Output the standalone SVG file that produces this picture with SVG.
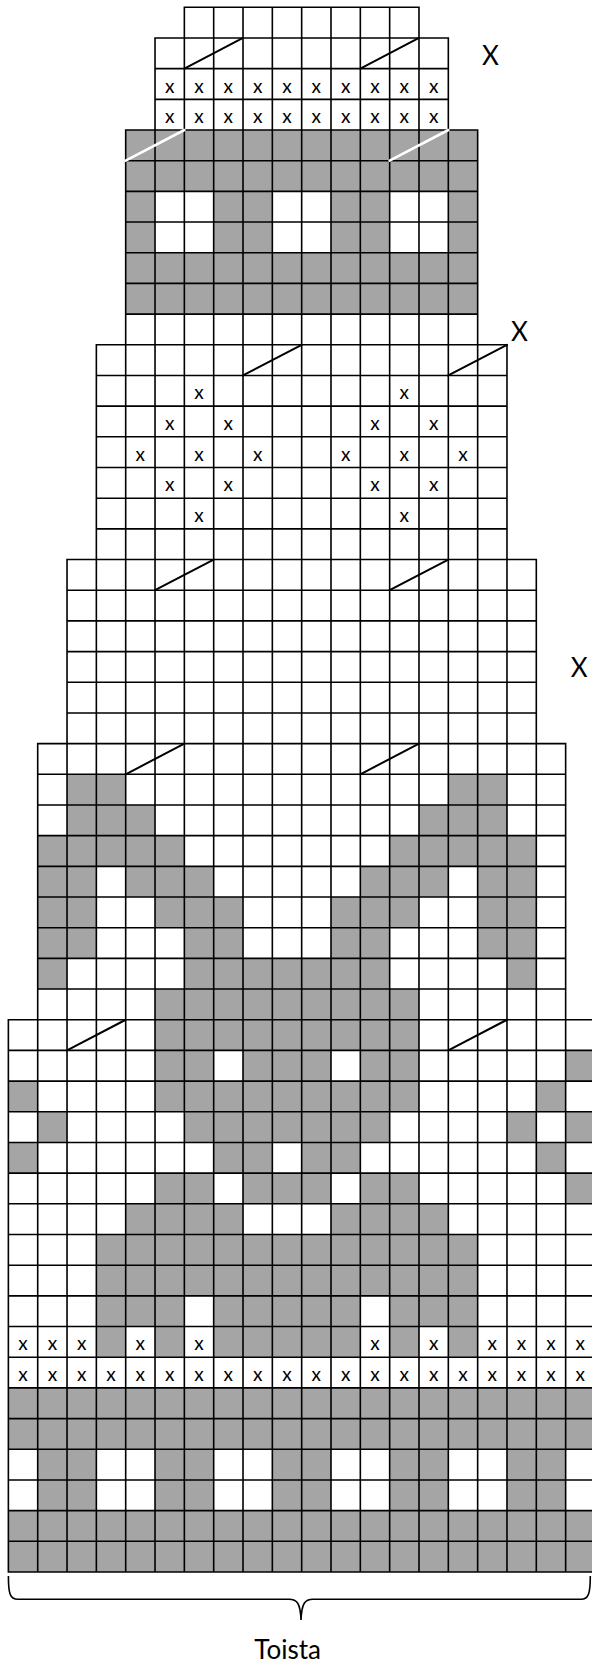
<svg xmlns="http://www.w3.org/2000/svg" width="592" height="1663" viewBox="0 0 592 1663">
<style>
.g rect{fill:#a5a5a5}
.grid{fill:none;stroke:#000;stroke-width:1.6;stroke-linecap:square;vector-effect:non-scaling-stroke}
.d{fill:none;stroke:#000;stroke-width:2;stroke-linecap:round;vector-effect:non-scaling-stroke}
.dw{fill:none;stroke:#fff;stroke-width:2.6;stroke-linecap:round;vector-effect:non-scaling-stroke}
.s{font-family:Lato,"Noto Sans",sans-serif;font-size:19px;text-anchor:middle;fill:#000}
.L{font-family:Lato,"Noto Sans",sans-serif;font-size:26px;text-anchor:middle;fill:#000}
.br{fill:none;stroke:#000;stroke-width:1.6}
</style>
<rect width="592" height="1663" fill="#fff"/>
<g id="chart" transform="translate(8.37 7.3) scale(29.33 30.68)">
<g id="fills" class="g">
<rect x="4" y="4" width="12" height="2"/>
<rect x="4" y="6" width="1" height="2"/><rect x="7" y="6" width="2" height="2"/><rect x="11" y="6" width="2" height="2"/><rect x="15" y="6" width="1" height="2"/>
<rect x="4" y="8" width="12" height="2"/>
<rect x="2" y="25" width="2" height="1"/><rect x="15" y="25" width="2" height="1"/>
<rect x="2" y="26" width="3" height="1"/><rect x="14" y="26" width="3" height="1"/>
<rect x="1" y="27" width="5" height="1"/><rect x="13" y="27" width="5" height="1"/>
<rect x="1" y="28" width="2" height="1"/><rect x="4" y="28" width="3" height="1"/><rect x="12" y="28" width="3" height="1"/><rect x="16" y="28" width="2" height="1"/>
<rect x="1" y="29" width="2" height="1"/><rect x="5" y="29" width="3" height="1"/><rect x="11" y="29" width="3" height="1"/><rect x="16" y="29" width="2" height="1"/>
<rect x="1" y="30" width="2" height="1"/><rect x="6" y="30" width="2" height="1"/><rect x="11" y="30" width="2" height="1"/><rect x="16" y="30" width="2" height="1"/>
<rect x="1" y="31" width="1" height="1"/><rect x="6" y="31" width="7" height="1"/><rect x="17" y="31" width="1" height="1"/>
<rect x="5" y="32" width="9" height="2"/>
<rect x="5" y="34" width="2" height="1"/><rect x="8" y="34" width="3" height="1"/><rect x="12" y="34" width="2" height="1"/><rect x="19" y="34" width="1" height="1"/>
<rect x="0" y="35" width="1" height="1"/><rect x="5" y="35" width="9" height="1"/><rect x="18" y="35" width="1" height="1"/>
<rect x="1" y="36" width="1" height="1"/><rect x="6" y="36" width="7" height="1"/><rect x="17" y="36" width="1" height="1"/><rect x="19" y="36" width="1" height="1"/>
<rect x="0" y="37" width="1" height="1"/><rect x="7" y="37" width="2" height="1"/><rect x="10" y="37" width="2" height="1"/><rect x="18" y="37" width="1" height="1"/>
<rect x="5" y="38" width="2" height="1"/><rect x="8" y="38" width="3" height="1"/><rect x="12" y="38" width="2" height="1"/><rect x="19" y="38" width="1" height="1"/>
<rect x="4" y="39" width="4" height="1"/><rect x="11" y="39" width="4" height="1"/>
<rect x="3" y="40" width="13" height="2"/>
<rect x="3" y="42" width="3" height="1"/><rect x="7" y="42" width="5" height="1"/><rect x="13" y="42" width="3" height="1"/>
<rect x="3" y="43" width="1" height="1"/><rect x="5" y="43" width="1" height="1"/><rect x="7" y="43" width="5" height="1"/><rect x="13" y="43" width="1" height="1"/><rect x="15" y="43" width="1" height="1"/>
<rect x="0" y="45" width="20" height="2"/>
<rect x="1" y="47" width="2" height="2"/><rect x="5" y="47" width="2" height="2"/><rect x="9" y="47" width="2" height="2"/><rect x="13" y="47" width="2" height="2"/><rect x="17" y="47" width="2" height="2"/>
<rect x="0" y="49" width="20" height="2"/>
</g>
<path id="grid" class="grid" d="M6 0H14M5 1H15M5 2H15M5 3H15M4 4H16M4 5H16M4 6H16M4 7H16M4 8H16M4 9H16M4 10H16M3 11H17M3 12H17M3 13H17M3 14H17M3 15H17M3 16H17M3 17H17M2 18H18M2 19H18M2 20H18M2 21H18M2 22H18M2 23H18M1 24H19M1 25H19M1 26H19M1 27H19M1 28H19M1 29H19M1 30H19M1 31H19M1 32H19M0 33H20M0 34H20M0 35H20M0 36H20M0 37H20M0 38H20M0 39H20M0 40H20M0 41H20M0 42H20M0 43H20M0 44H20M0 45H20M0 46H20M0 47H20M0 48H20M0 49H20M0 50H20M0 51H20M0 33V51M1 24V51M2 18V51M3 11V51M4 4V51M5 1V51M6 0V51M7 0V51M8 0V51M9 0V51M10 0V51M11 0V51M12 0V51M13 0V51M14 0V51M15 1V51M16 4V51M17 11V51M18 18V51M19 24V51M20 33V51"/>
<g id="connectors">
<path class="d" d="M6 2L8 1M12 2L14 1"/>
<path class="dw" d="M4 5L6 4M13 5L15 4"/>
<path class="d" d="M8 12L10 11M15 12L17 11"/>
<path class="d" d="M5 19L7 18M13 19L15 18"/>
<path class="d" d="M4 25L6 24M12 25L14 24"/>
<path class="d" d="M2 34L4 33M15 34L17 33"/>
</g>
</g>
<g id="marks" class="s">
<text x="169.7" y="92.5">x</text><text x="199" y="92.5">x</text><text x="228.3" y="92.5">x</text><text x="257.7" y="92.5">x</text><text x="287" y="92.5">x</text><text x="316.3" y="92.5">x</text><text x="345.7" y="92.5">x</text><text x="375" y="92.5">x</text><text x="404.3" y="92.5">x</text><text x="433.7" y="92.5">x</text>
<text x="169.7" y="123.1">x</text><text x="199" y="123.1">x</text><text x="228.3" y="123.1">x</text><text x="257.7" y="123.1">x</text><text x="287" y="123.1">x</text><text x="316.3" y="123.1">x</text><text x="345.7" y="123.1">x</text><text x="375" y="123.1">x</text><text x="404.3" y="123.1">x</text><text x="433.7" y="123.1">x</text>
<text x="199" y="399.3">x</text><text x="404.3" y="399.3">x</text>
<text x="169.7" y="430">x</text><text x="228.3" y="430">x</text><text x="375" y="430">x</text><text x="433.7" y="430">x</text>
<text x="140.3" y="460.7">x</text><text x="199" y="460.7">x</text><text x="257.7" y="460.7">x</text><text x="345.7" y="460.7">x</text><text x="404.3" y="460.7">x</text><text x="463" y="460.7">x</text>
<text x="169.7" y="491.4">x</text><text x="228.3" y="491.4">x</text><text x="375" y="491.4">x</text><text x="433.7" y="491.4">x</text>
<text x="199" y="522.1">x</text><text x="404.3" y="522.1">x</text>
<text x="23" y="1350.4">x</text><text x="52.4" y="1350.4">x</text><text x="81.7" y="1350.4">x</text><text x="140.3" y="1350.4">x</text><text x="199" y="1350.4">x</text><text x="375" y="1350.4">x</text><text x="433.7" y="1350.4">x</text><text x="492.3" y="1350.4">x</text><text x="521.6" y="1350.4">x</text><text x="551" y="1350.4">x</text><text x="580.3" y="1350.4">x</text>
<text x="23" y="1381.1">x</text><text x="52.4" y="1381.1">x</text><text x="81.7" y="1381.1">x</text><text x="111" y="1381.1">x</text><text x="140.3" y="1381.1">x</text><text x="169.7" y="1381.1">x</text><text x="199" y="1381.1">x</text><text x="228.3" y="1381.1">x</text><text x="257.7" y="1381.1">x</text><text x="287" y="1381.1">x</text><text x="316.3" y="1381.1">x</text><text x="345.7" y="1381.1">x</text><text x="375" y="1381.1">x</text><text x="404.3" y="1381.1">x</text><text x="433.7" y="1381.1">x</text><text x="463" y="1381.1">x</text><text x="492.3" y="1381.1">x</text><text x="521.6" y="1381.1">x</text><text x="551" y="1381.1">x</text><text x="580.3" y="1381.1">x</text>
</g>
<g id="labels" class="L">
<text x="490.5" y="65">X</text>
<text x="519.5" y="340.7">X</text>
<text x="579.2" y="677.3">X</text>
<text x="287.7" y="1659.3">Toista</text>
</g>
<path id="brace" class="br" d="M8.4 1576C8.4 1592 9.5 1599.3 18 1599.3L289 1599.3C297 1599.3 300.3 1603 301 1620C301.7 1603 305 1599.3 313 1599.3L581 1599.3C589 1599.3 590.3 1592 590.3 1576"/>
</svg>
